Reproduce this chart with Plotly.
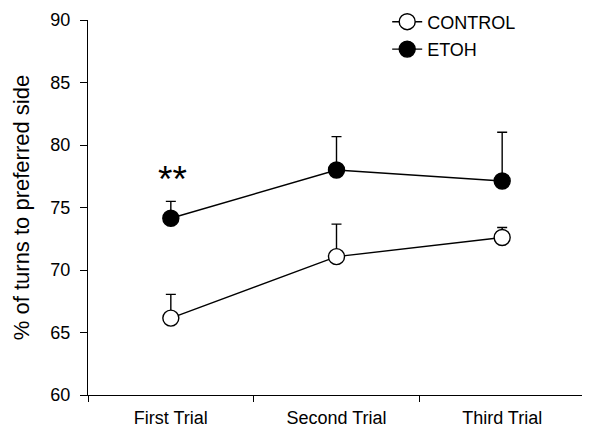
import plotly.graph_objects as go

trials = ["First Trial", "Second Trial", "Third Trial"]
control = [66.15, 71.07, 72.6]
control_err = [1.9, 2.6, 0.8]
etoh = [74.14, 78.0, 77.12]
etoh_err = [1.35, 2.67, 3.9]

FONT = "Liberation Sans, Arial, sans-serif"

fig = go.Figure()
fig.add_trace(go.Scatter(
    x=trials, y=control, name="CONTROL", mode="lines+markers", legendgroup="a",
    line=dict(color="black", width=1.4),
    marker=dict(symbol="circle", size=16, color="white", line=dict(color="black", width=1.4)),
    error_y=dict(type="data", array=control_err, arrayminus=[0, 0, 0], symmetric=False,
                 color="black", thickness=1.4, width=5),
))
fig.add_trace(go.Scatter(
    x=trials, y=etoh, name="ETOH", mode="lines+markers", legendgroup="b",
    line=dict(color="black", width=1.4),
    marker=dict(symbol="circle", size=16, color="black", line=dict(color="black", width=1.4)),
    error_y=dict(type="data", array=etoh_err, arrayminus=[0, 0, 0], symmetric=False,
                 color="black", thickness=1.4, width=5),
))
fig.add_annotation(x=trials[0], y=77.28, text="**", showarrow=False, xshift=2,
                   font=dict(size=37, color="black", family=FONT))

fig.update_layout(
    width=590, height=433,
    margin=dict(l=80, r=13, t=12, b=46, autoexpand=False),
    paper_bgcolor="white", plot_bgcolor="white",
    font=dict(family=FONT, size=18, color="black"),
    showlegend=True,
    legend=dict(x=0.602, y=1.044, xanchor="left", yanchor="top", bgcolor="rgba(0,0,0,0)",
                font=dict(size=18), tracegroupgap=1, itemwidth=30),
    xaxis=dict(type="category", range=[-0.5, 2.5], showline=True, linecolor="black", linewidth=1.4,
               ticks="outside", tickson="boundaries", ticklen=6, tickcolor="black", tickwidth=1.4,
               showgrid=False, zeroline=False, tickfont=dict(size=18), tickangle=0,
               ticklabelstandoff=6),
    yaxis=dict(range=[60, 90], tickvals=[60, 65, 70, 75, 80, 85, 90], showline=True,
               linecolor="black", linewidth=1.4, ticks="outside", ticklen=7, tickcolor="black",
               tickwidth=1.4, showgrid=False, zeroline=False, tickfont=dict(size=18),
               ticklabelstandoff=6,
               title=dict(text="% of turns to preferred side", font=dict(size=22), standoff=14)),
)

fig.write_html("out.html")
